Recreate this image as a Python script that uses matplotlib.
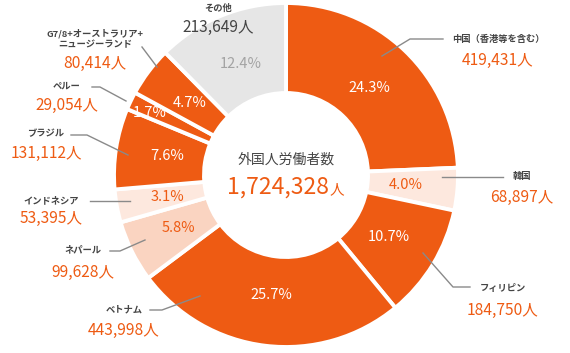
import numpy as np
import matplotlib
matplotlib.use("Agg")
import matplotlib.pyplot as plt

plt.rcParams["font.family"] = ["Noto Sans CJK JP", "DejaVu Sans"]

# data (clockwise from 12 o'clock)
names = ["中国（香港等を含む）", "韓国", "フィリピン", "ベトナム", "ネパール",
         "インドネシア", "ブラジル", "ペルー", "G7/8+オーストラリア+\nニュージーランド", "その他"]
counts = [419431, 68897, 184750, 443998, 99628, 53395, 131112, 29054, 80414, 213649]
total = 1724328

ORANGE = "#EE5B13"
LIGHT = "#FDE8DE"
MID = "#FAD4C1"
GRAY = "#E6E6E6"
colors = [ORANGE, LIGHT, ORANGE, ORANGE, MID, LIGHT, ORANGE, ORANGE, ORANGE, GRAY]
pct_colors = ["white", ORANGE, "white", "white", ORANGE, ORANGE, "white", "white", "white", "#A3A3A3"]
val_colors = [ORANGE] * 9 + ["#444444"]

W, H = 570, 353
fig = plt.figure(figsize=(W / 100, H / 100), dpi=100)
ax = fig.add_axes([0, 0, 1, 1])

def Y(y):
    return H - y

cx, cy, R = 286, 175, 172
wedges, texts, autotexts = ax.pie(
    counts, colors=colors, startangle=90, counterclock=False,
    center=(cx, Y(cy)), radius=R, autopct="%.1f%%", pctdistance=0.70,
    wedgeprops={"width": 90, "edgecolor": "white", "linewidth": 2.8},
    textprops={"fontsize": 10.5})
for t, c in zip(autotexts, pct_colors):
    t.set_color(c)
# small Peru slice: label nudged like the original
autotexts[7].set_position((150, Y(113)))

ax.set_xlim(0, W)
ax.set_ylim(0, H)
ax.set_aspect("equal")
ax.axis("off")

# label layout: name position (x, y), value y
label_pos = [(498, 39, 60), (522, 177, 197), (503, 289, 310), (124, 310, 330),
             (83, 250, 272), (51, 201, 218), (46, 134, 153), (67, 86, 105),
             (95, 39, 63), (218, 8, 27)]
leaders = [
    [(443, 39), (410, 39), (382, 56)],
    [(442, 177), (503, 177)],
    [(423, 253), (453, 287), (470, 287)],
    [(150, 310), (162, 310), (200, 296)],
    [(110, 251), (120, 251), (145, 240)],
    [(90, 201), (130, 201)],
    [(71, 135), (87, 135), (128, 155)],
    [(92, 87), (100, 87), (126, 101)],
    [(142, 47), (157, 67)],
]

for i, (x, yn, yv) in enumerate(label_pos):
    ax.text(x, Y(yn), names[i], ha="center", va="center", fontsize=6.7,
            fontweight="bold", color="#444444", linespacing=1.3)
    ax.text(x, Y(yv), f"{counts[i]:,}人", ha="center", va="center",
            fontsize=11.2, color=val_colors[i])

for pts in leaders:
    xs = [p[0] for p in pts]
    ys = [Y(p[1]) for p in pts]
    ax.plot(xs, ys, color="#8A8A8A", lw=1)

# center text
ax.text(cx, Y(160), "外国人労働者数", ha="center", va="center", fontsize=10,
        color="#444444")
ax.text(329, Y(187), f"{total:,}", ha="right", va="center", fontsize=16.5,
        color=ORANGE)
ax.text(330, Y(190), "人", ha="left", va="center", fontsize=10.5, color=ORANGE)

fig.savefig("out.png", dpi=100)
